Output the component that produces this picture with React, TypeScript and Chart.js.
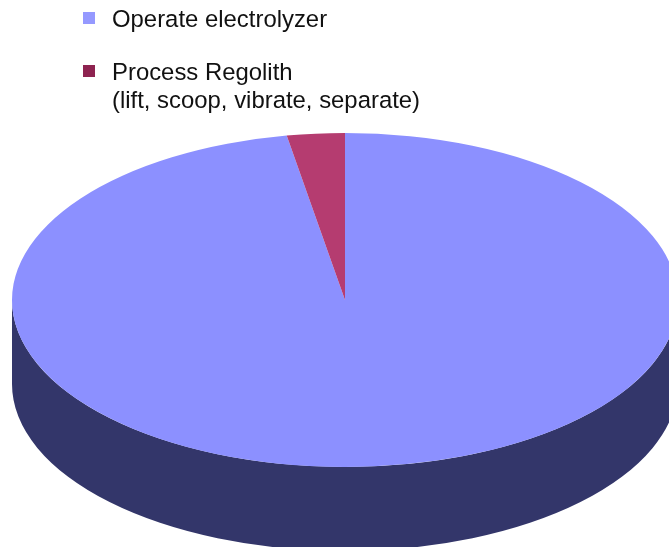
import React, { useEffect, useRef } from "react";
import { Chart, registerables } from "chart.js";

Chart.register(...registerables);

const categories = ["Operate electrolyzer", "Process Regolith"];
const legendLines = [["Operate electrolyzer"], ["Process Regolith", "(lift, scoop, vibrate, separate)"]];
const values = [97.2, 2.8];
const topColors = ["#8C90FF", "#B53C70"];
const sideColors = ["#33366A", "#5A1F3A"];
const swatchColors = ["#9599FF", "#8E2350"];

const ELLIPSE = { cx: 345, cy: 300, rx: 333, ry: 167, depth: 84 };
const LEGEND = { swatchX: 83, swatchSize: 12, textX: 112, lineH: 28, font: "23.9px 'Liberation Sans', Arial, sans-serif", baselines: [27, 80] };

const tiltPlugin = {
  id: "tilt",
  beforeDatasetsDraw(chart: any) {
    const ctx = chart.ctx;
    const arcs = chart.getDatasetMeta(0).data;
    const first = arcs[0];
    const R = first.outerRadius;
    const sy = ELLIPSE.ry / R;
    const drop = ELLIPSE.depth / sy;
    ctx.save();
    ctx.translate(ELLIPSE.cx, ELLIPSE.cy);
    ctx.scale(ELLIPSE.rx / R, sy);
    ctx.translate(-first.x, -first.y);
    arcs.forEach((arc: any, i: number) => {
      [0, 2 * Math.PI].forEach((turn) => {
        const from = Math.max(arc.startAngle + turn, 0);
        const to = Math.min(arc.endAngle + turn, Math.PI);
        if (to <= from) return;
        ctx.beginPath();
        ctx.arc(arc.x, arc.y, arc.outerRadius, from, to);
        ctx.arc(arc.x, arc.y + drop, arc.outerRadius, to, from, true);
        ctx.closePath();
        ctx.fillStyle = sideColors[i];
        ctx.fill();
      });
    });
  },
  afterDatasetsDraw(chart: any) {
    chart.ctx.restore();
  },
  afterDraw(chart: any) {
    const ctx = chart.ctx;
    ctx.save();
    ctx.font = LEGEND.font;
    ctx.textBaseline = "alphabetic";
    legendLines.forEach((lines, i) => {
      const base = LEGEND.baselines[i];
      ctx.fillStyle = swatchColors[i];
      ctx.fillRect(LEGEND.swatchX, base - 15, LEGEND.swatchSize, LEGEND.swatchSize);
      ctx.fillStyle = "#111111";
      lines.forEach((line, j) => ctx.fillText(line, LEGEND.textX, base + j * LEGEND.lineH));
    });
    ctx.restore();
  },
};

export default function App() {
  const ref = useRef<HTMLCanvasElement>(null);
  useEffect(() => {
    const chart = new Chart(ref.current!, {
      type: "pie",
      data: {
        labels: categories,
        datasets: [{ data: values, backgroundColor: topColors, borderWidth: 0, clip: false } as any],
      },
      options: {
        animation: false,
        responsive: false,
        layout: { padding: 0 },
        plugins: { legend: { display: false }, tooltip: { enabled: false } },
      },
      plugins: [tiltPlugin],
    });
    return () => chart.destroy();
  }, []);
  return (
    <div style={{ position: "absolute", left: 0, top: 0, width: 669, height: 547, overflow: "hidden", background: "#fff" }}>
      <canvas ref={ref} width={669} height={547} style={{ display: "block" }} />
    </div>
  );
}
